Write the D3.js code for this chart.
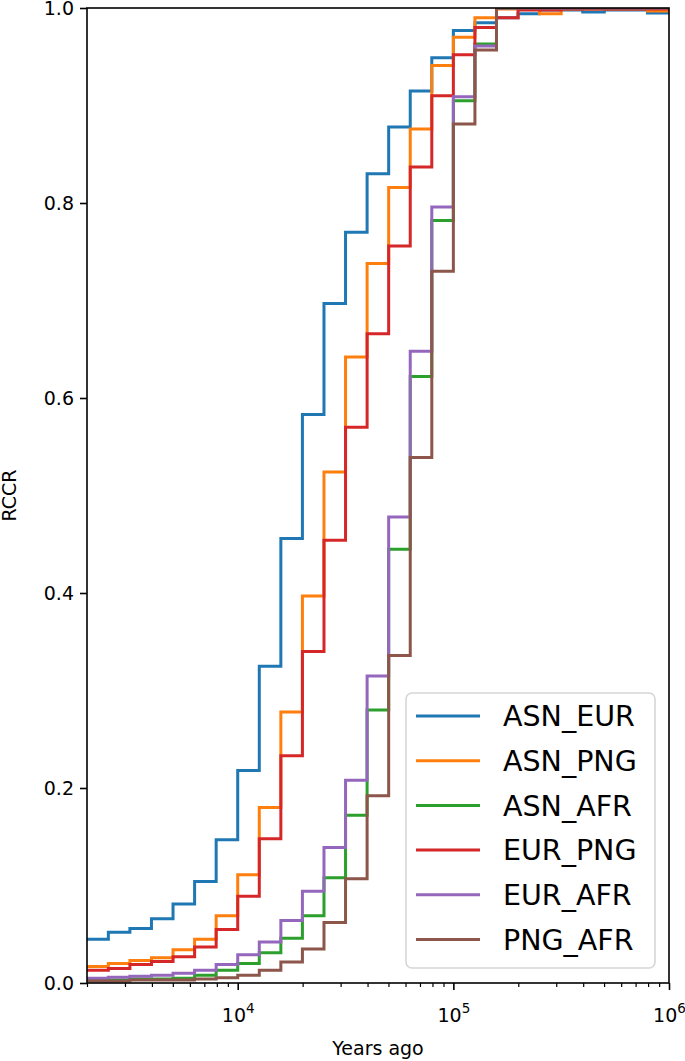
<!DOCTYPE html>
<html>
<head>
<meta charset="utf-8">
<script src="https://cdn.jsdelivr.net/npm/d3@7"></script>
<style>
  body { margin: 0; background: #fff; }
  svg text { font-family: "DejaVu Sans", sans-serif; fill: #000; }
</style>
</head>
<body>
<div id="rccr-chart"></div>
<script>
// bin edges in years ago (each step spans 0.1 decade)
const edges = [2000, 2512, 3162, 3981, 5012, 6310, 7943, 10000, 12589, 15849,
    19953, 25119, 31623, 39811, 50119, 63096, 79433, 100000, 125893, 158489,
    199526, 251189, 316228, 398107, 501187, 630957, 794328, 1000000];

const seriesNames = ["ASN_EUR", "ASN_PNG", "ASN_AFR", "EUR_PNG", "EUR_AFR", "PNG_AFR"];

const asnEur = [0.045, 0.052, 0.056, 0.066, 0.081, 0.104, 0.147, 0.218, 0.325, 0.456,
    0.583, 0.697, 0.770, 0.830, 0.878, 0.915, 0.949, 0.977, 0.985, 0.990,
    0.994, 0.998, 0.998, 0.996, 0.998, 0.998, 0.995];
const asnPng = [0.017, 0.020, 0.023, 0.026, 0.034, 0.045, 0.069, 0.111, 0.180, 0.278,
    0.397, 0.524, 0.642, 0.738, 0.816, 0.876, 0.941, 0.970, 0.990, 0.999,
    0.999, 0.994, 0.999, 0.999, 0.999, 0.999, 0.997];
const asnAfr = [0.003, 0.003, 0.004, 0.004, 0.005, 0.008, 0.013, 0.020, 0.031, 0.046,
    0.069, 0.108, 0.172, 0.280, 0.445, 0.622, 0.782, 0.905, 0.963, 1.000,
    1.000, 1.000, 1.000, 1.000, 1.000, 1.000, 1.000];
const eurPng = [0.013, 0.015, 0.019, 0.022, 0.027, 0.037, 0.055, 0.089, 0.148, 0.233,
    0.340, 0.454, 0.570, 0.666, 0.756, 0.837, 0.910, 0.952, 0.980, 0.990,
    0.998, 0.998, 0.999, 0.999, 0.999, 0.999, 0.999];
const eurAfr = [0.005, 0.006, 0.007, 0.008, 0.010, 0.013, 0.019, 0.029, 0.042, 0.064,
    0.094, 0.139, 0.208, 0.315, 0.478, 0.648, 0.796, 0.909, 0.961, 1.000,
    1.000, 1.000, 1.000, 1.000, 1.000, 1.000, 1.000];
const pngAfr = [0.002, 0.002, 0.003, 0.003, 0.003, 0.004, 0.0055, 0.008, 0.013, 0.0215,
    0.035, 0.062, 0.107, 0.192, 0.336, 0.539, 0.730, 0.881, 0.957, 1.000,
    1.000, 1.000, 1.000, 1.000, 1.000, 1.000, 1.000];

const yTicks = [0, 0.2, 0.4, 0.6, 0.8, 1.0];
const xMajorTicks = [1e4, 1e5, 1e6];
const xMinorTicks = [2000, 3000, 4000, 5000, 6000, 7000, 8000, 9000,
    20000, 30000, 40000, 50000, 60000, 70000, 80000, 90000,
    200000, 300000, 400000, 500000, 600000, 700000, 800000, 900000];

const colors = ["#1f77b4", "#ff7f0e", "#2ca02c", "#d62728", "#9467bd", "#8c564b"];

const ctx = {
    w: 685,
    h: 1061,
    marginTop: 8,
    marginRight: 16,
    marginBottom: 78,
    marginLeft: 87
};

function createViz() {
    const svg = d3.select("#rccr-chart").append("svg")
        .attr("width", ctx.w)
        .attr("height", ctx.h);

    const g = svg.append("g")
        .attr("transform", `translate(${ctx.marginLeft},${ctx.marginTop})`);

    drawChart(g);
}

function drawChart(g) {
    const width = ctx.w - ctx.marginLeft - ctx.marginRight;
    const height = ctx.h - ctx.marginTop - ctx.marginBottom;

    const x = d3.scaleLog().domain([2000, 1e6]).range([0, width]);
    const y = d3.scaleLinear().domain([0, 1]).range([height, 0]);

    g.append("clipPath").attr("id", "plot-clip")
        .append("rect").attr("width", width).attr("height", height);

    // step lines, last value repeated at the right edge
    const allSeries = [asnEur, asnPng, asnAfr, eurPng, eurAfr, pngAfr];
    const line = d3.line()
        .x(d => x(d[0]))
        .y(d => y(d[1]))
        .curve(d3.curveStepAfter);

    const lines = g.append("g").attr("clip-path", "url(#plot-clip)");
    allSeries.forEach((vals, i) => {
        const pts = edges.map((e, j) => [e, vals[Math.min(j, vals.length - 1)]]);
        lines.append("path")
            .datum(pts)
            .attr("fill", "none")
            .attr("stroke", colors[i])
            .attr("stroke-width", 3)
            .attr("stroke-linejoin", "miter")
            .attr("d", line);
    });

    // y axis
    const yAxis = g.append("g")
        .call(d3.axisLeft(y).tickValues(yTicks).tickFormat(d3.format(".1f")).tickSize(7).tickPadding(6));
    yAxis.select(".domain").remove();
    yAxis.selectAll(".tick line").attr("stroke-width", 1.6);
    yAxis.selectAll(".tick text").style("font-size", "19px");

    // x axis, major + minor ticks
    const xMinor = g.append("g")
        .attr("transform", `translate(0,${height})`)
        .call(d3.axisBottom(x).tickValues(xMinorTicks).tickFormat("").tickSize(4));
    xMinor.select(".domain").remove();
    xMinor.selectAll(".tick line").attr("stroke-width", 1.2);

    const xAxis = g.append("g")
        .attr("transform", `translate(0,${height})`)
        .call(d3.axisBottom(x).tickValues(xMajorTicks).tickFormat("").tickSize(7));
    xAxis.select(".domain").remove();
    xAxis.selectAll(".tick line").attr("stroke-width", 1.6);

    xAxis.selectAll(".tick").append("text")
        .attr("y", 39)
        .attr("text-anchor", "middle")
        .style("font-size", "19px")
        .each(function(d) {
            const t = d3.select(this);
            t.append("tspan").text("10");
            t.append("tspan")
                .attr("dy", -9)
                .style("font-size", "13.5px")
                .text(Math.round(Math.log10(d)));
        });

    // frame
    g.append("rect")
        .attr("width", width)
        .attr("height", height)
        .attr("fill", "none")
        .attr("stroke", "#000")
        .attr("stroke-width", 1.6);

    // axis labels
    g.append("text")
        .attr("x", width / 2)
        .attr("y", height + 72)
        .attr("text-anchor", "middle")
        .style("font-size", "19px")
        .text("Years ago");

    g.append("text")
        .attr("transform", "rotate(-90)")
        .attr("x", -height / 2)
        .attr("y", -71)
        .attr("text-anchor", "middle")
        .style("font-size", "19px")
        .text("RCCR");

    // legend
    const legend = g.append("g")
        .attr("transform", `translate(${406 - ctx.marginLeft},${693 - ctx.marginTop})`);
    legend.append("rect")
        .attr("width", 249)
        .attr("height", 275)
        .attr("rx", 6)
        .attr("fill", "#fff")
        .attr("fill-opacity", 0.8)
        .attr("stroke", "#d6d6d6")
        .attr("stroke-width", 1.6);

    seriesNames.forEach((name, i) => {
        const row = legend.append("g")
            .attr("transform", `translate(0,${23 + i * 44.7})`);
        row.append("line")
            .attr("x1", 10).attr("x2", 74)
            .attr("stroke", colors[i])
            .attr("stroke-width", 3);
        row.append("text")
            .attr("x", 97)
            .attr("dy", "0.36em")
            .style("font-size", "28.5px")
            .text(name);
    });
}

document.addEventListener("DOMContentLoaded", function () {
    createViz();
});
</script>
</body>
</html>
